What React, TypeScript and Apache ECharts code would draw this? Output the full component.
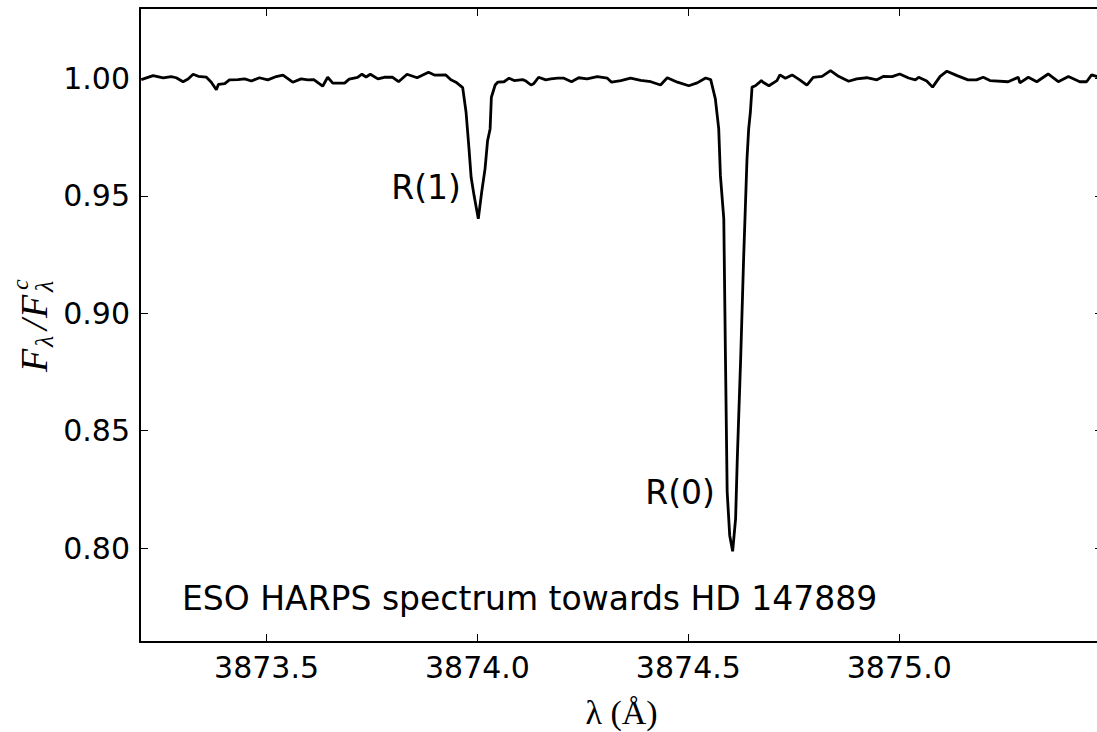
import React, { useEffect, useRef } from "react";
import * as echarts from "echarts";

const wavelength: number[] = [
  3873.203, 3873.231, 3873.255, 3873.274, 3873.286, 3873.302, 3873.314, 3873.326, 3873.338, 3873.357,
  3873.369, 3873.381, 3873.386, 3873.401, 3873.412, 3873.432, 3873.448, 3873.464, 3873.483, 3873.503,
  3873.523, 3873.539, 3873.562, 3873.582, 3873.598, 3873.612, 3873.633, 3873.645, 3873.657, 3873.685,
  3873.696, 3873.716, 3873.726, 3873.736, 3873.746, 3873.764, 3873.779, 3873.799, 3873.813, 3873.833,
  3873.857, 3873.884, 3873.899, 3873.925, 3873.937, 3873.949, 3873.965,
  3873.973, 3873.980, 3873.985, 3873.992, 3874.002, 3874.010, 3874.018, 3874.024, 3874.030, 3874.033,
  3874.042, 3874.048, 3874.063, 3874.075,
  3874.087, 3874.107, 3874.115, 3874.127, 3874.133, 3874.145, 3874.162, 3874.174, 3874.190, 3874.205,
  3874.223, 3874.240, 3874.260, 3874.284, 3874.308, 3874.318, 3874.340, 3874.363, 3874.387, 3874.411,
  3874.434, 3874.450, 3874.474, 3874.501, 3874.521, 3874.541, 3874.553,
  3874.564, 3874.572, 3874.576, 3874.584, 3874.588, 3874.592, 3874.598, 3874.605, 3874.612, 3874.616,
  3874.624, 3874.631, 3874.639, 3874.643, 3874.647, 3874.651, 3874.659, 3874.667, 3874.673,
  3874.677, 3874.691, 3874.710, 3874.717, 3874.730, 3874.746, 3874.764, 3874.781, 3874.796, 3874.817,
  3874.837, 3874.856, 3874.880, 3874.899, 3874.923, 3874.947, 3874.963, 3874.983, 3875.001, 3875.022,
  3875.038, 3875.046, 3875.065, 3875.079, 3875.097, 3875.113, 3875.137, 3875.163, 3875.183, 3875.199,
  3875.215, 3875.258, 3875.282, 3875.286, 3875.306, 3875.326, 3875.353, 3875.377, 3875.401, 3875.428,
  3875.444, 3875.456, 3875.469, 3875.483,
];

const flux: number[] = [
  0.9995, 1.0012, 1.0002, 1.0008, 1.0003, 0.9986, 0.9998, 1.0018, 1.0009, 1.0006,
  0.9984, 0.9952, 0.9975, 0.9978, 0.9994, 0.9995, 0.9998, 0.9989, 1.0003, 0.9994,
  1.0008, 1.0014, 0.9984, 0.9998, 0.9994, 0.9995, 0.9967, 1.0005, 0.998, 0.998,
  0.9997, 1.0005, 1.0018, 1.0006, 1.0018, 0.9998, 1.0005, 1.0005, 0.9986, 1.0018,
  1.0003, 1.0026, 1.0014, 1.0015, 0.9994, 0.9984, 0.9961,
  0.9856, 0.97, 0.9579, 0.9501, 0.9402, 0.9516, 0.9615, 0.9735, 0.9785, 0.992,
  0.9972, 0.9984, 0.9986, 1.0001,
  0.9991, 0.9995, 0.9989, 0.9972, 0.9977, 1.0005, 0.9994, 0.9998, 1.0001, 1.0001,
  0.9986, 1.0003, 0.9998, 1.0008, 1.0001, 0.9984, 0.9991, 1.0001, 0.9992, 0.9986,
  0.9972, 1.0003, 0.9984, 0.9969, 0.9981, 1.0002, 0.9995,
  0.9913, 0.9785, 0.9586, 0.9402, 0.8806, 0.824, 0.8054, 0.7986, 0.8125, 0.838,
  0.8806, 0.9232, 0.9657, 0.9785, 0.9856, 0.9963, 0.9969, 0.9981, 0.9991,
  0.9984, 0.9969, 0.9991, 1.0015, 1.0001, 1.0015, 0.9994, 0.9972, 1.0005, 1.0009,
  1.0033, 1.0009, 0.9988, 0.9998, 1.0003, 0.9994, 1.0009, 1.0008, 1.0019, 1.0002,
  0.9994, 1.0005, 0.9989, 0.9963, 1.0009, 1.0031, 1.0012, 0.9994, 0.9994, 1.0005,
  0.9991, 0.9986, 1.0005, 0.9981, 1.0005, 0.9986, 1.0019, 0.9986, 1.0008, 0.9986,
  0.9986, 1.0015, 1.0008, 1.0006,
];

const xTicks: number[] = [3873.5, 3874.0, 3874.5, 3875.0];
const yTicks: number[] = [0.8, 0.85, 0.9, 0.95, 1.0];
const xRange: number[] = [3873.2, 3875.483];
const yRange: number[] = [0.76, 1.03];

const annotations = [
  { text: "R(1)", x: 461, y: 187, align: "right" },
  { text: "R(0)", x: 715, y: 492, align: "right" },
  { text: "ESO HARPS spectrum towards HD 147889", x: 182, y: 598, align: "left" },
];

const SANS = "DejaVu Sans";
const SERIF = "Liberation Serif";

export default function App() {
  const ref = useRef<HTMLDivElement>(null);
  useEffect(() => {
    if (!ref.current) return;
    const chart = echarts.init(ref.current, null, { renderer: "svg" });
    const data = wavelength.map((w, i) => [w, flux[i]]);
    const axisLine = { show: true, lineStyle: { color: "#000", width: 2 } };
    const tick = (vals: number[]) => ({
      show: true,
      inside: true,
      length: 8,
      lineStyle: { color: "#000", width: 1 },
      customValues: vals,
    });
    const it = (text: string, lx: number, ly: number, size: number) => ({
      type: "text",
      x: lx,
      y: ly,
      style: {
        text,
        fill: "#000",
        font: `italic ${size}px "${SERIF}"`,
        textAlign: "left",
        textVerticalAlign: "middle",
      },
    });
    chart.setOption({
      animation: false,
      backgroundColor: "#fff",
      grid: {
        left: 140,
        top: 8,
        right: -6,
        bottom: 90,
        containLabel: false,
        outerBoundsMode: "none",
      },
      xAxis: [
        {
          type: "value",
          min: xRange[0],
          max: xRange[1],
          position: "bottom",
          axisLine,
          axisTick: tick(xTicks),
          splitLine: { show: false },
          axisLabel: {
            customValues: xTicks,
            formatter: (v: number) => v.toFixed(1),
            color: "#000",
            fontFamily: SANS,
            fontSize: 30,
            margin: 10,
          },
          name: "λ (Å)",
          nameLocation: "middle",
          nameGap: 53,
          nameTextStyle: { fontFamily: SERIF, fontSize: 34, color: "#000" },
        },
        {
          type: "value",
          min: xRange[0],
          max: xRange[1],
          position: "top",
          axisLine,
          axisTick: tick(xTicks),
          splitLine: { show: false },
          axisLabel: { show: false },
        },
      ],
      yAxis: [
        {
          type: "value",
          min: yRange[0],
          max: yRange[1],
          position: "left",
          axisLine,
          axisTick: tick(yTicks),
          splitLine: { show: false },
          axisLabel: {
            customValues: yTicks,
            formatter: (v: number) => v.toFixed(2),
            color: "#000",
            fontFamily: SANS,
            fontSize: 30,
            margin: 10,
          },
        },
        {
          type: "value",
          min: yRange[0],
          max: yRange[1],
          position: "right",
          axisLine,
          axisTick: tick(yTicks),
          splitLine: { show: false },
          axisLabel: { show: false },
        },
      ],
      series: [
        {
          type: "line",
          data,
          showSymbol: false,
          symbol: "none",
          lineStyle: { color: "#000", width: 2.8 },
          clip: true,
        },
      ],
      graphic: [
        ...annotations.map((a) => ({
          type: "text",
          x: a.x,
          y: a.y,
          style: {
            text: a.text,
            fill: "#000",
            font: `33px "${SANS}"`,
            textAlign: a.align,
            textVerticalAlign: "middle",
          },
        })),
        {
          type: "group",
          x: 34,
          y: 372,
          rotation: Math.PI / 2,
          children: [
            it("F", 0, 0, 38),
            it("λ", 25, 10, 26),
            it("/", 42, 0, 38),
            it("F", 54, 0, 38),
            it("c", 82, -14, 24),
            it("λ", 80, 10, 26),
          ],
        },
      ],
    });
    return () => chart.dispose();
  }, []);
  return (
    <div
      ref={ref}
      style={{ position: "absolute", left: 0, top: 0, width: 1097, height: 732 }}
    />
  );
}
